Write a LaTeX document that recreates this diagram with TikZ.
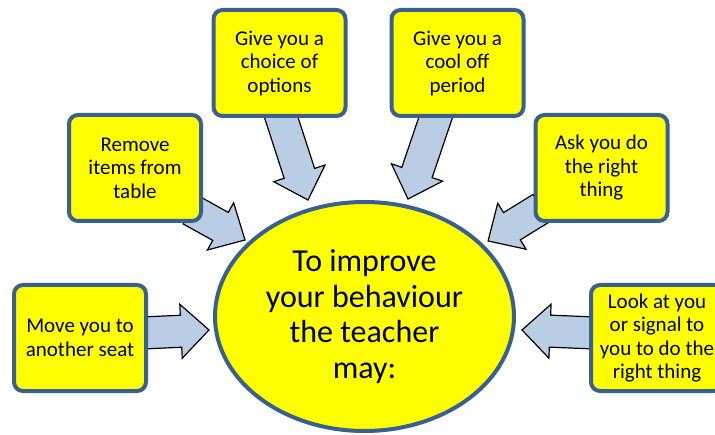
\documentclass[tikz,border=0pt]{standalone}
\usepackage{fontspec}
\setmainfont{Carlito}
\usepackage{xcolor}
\usetikzlibrary{shapes.geometric}
\usetikzlibrary{backgrounds}
\usetikzlibrary{calc}
\usetikzlibrary{positioning, arrows.meta}

\definecolor{boxline}{HTML}{3A6090}
\definecolor{boxfill}{HTML}{FFFF00}
\definecolor{arrowfill}{HTML}{B9CDE5}

% Block arrow from #1 (tail) to #2 (tip)
\newcommand{\fatarrow}[2]{%
  \path[arrowbody] let \p1=(#1), \p2=(#2),
      \n1={atan2(\y2-\y1,\x2-\x1)}, \n2={veclen(\x2-\x1,\y2-\y1)} in
    [shift={(\p1)}, rotate=\n1]
    (0,-16) -- (\n2-28,-16) -- (\n2-28,-27) -- (\n2,0) -- (\n2-28,27) -- (\n2-28,16) -- (0,16) -- cycle;}

\begin{document}
\begin{tikzpicture}[x=1pt, y=1pt,
    box/.style={draw=boxline, line width=4pt, fill=boxfill, rounded corners=9pt,
      minimum width=132pt, minimum height=106pt, inner sep=2pt, align=center,
      font=\fontsize{21}{23.5}\selectfont},
    mainshape/.style={ellipse, draw=boxline, line width=4pt, fill=boxfill,
      minimum width=299pt, minimum height=229pt, inner sep=0pt, align=center,
      font=\fontsize{32}{35.5}\selectfont},
    arrowbody/.style={draw=black, line width=1.2pt, fill=arrowfill, line join=miter}]
    \useasboundingbox (0,0) rectangle (715,434);

    % Centre ellipse
    \node[mainshape] (teacher) at (364.5,117.5) {To improve\\your behaviour\\the teacher\\may:};

    % Boxes round the ellipse
    \node[box] (move) at (80,96) {Move you to\\another seat};
    \node[box] (remove) at (135,266) {Remove\\items from\\table};
    \node[box] (choice) at (279.5,371) {Give you a\\choice of\\options};
    \node[box] (cool) at (457.5,371) {Give you a\\cool off\\period};
    \node[box] (ask) at (601.5,266) {Ask you do\\the right\\thing};
    \node[box] (look) at (657,96) {Look at you\\or signal to\\you to do the\\right thing};

    % Arrow tips next to the ellipse
    \coordinate (tmove) at (209,104);
    \coordinate (tremove) at (245,194);
    \coordinate (tchoice) at (308,234);
    \coordinate (tcool) at (408,235);
    \coordinate (task) at (488,193);
    \coordinate (tlook) at (522,104);

    % Block arrows behind the boxes
    \begin{scope}[on background layer]
        \fatarrow{$(move.east)+(-6,5)$}{tmove}
        \fatarrow{$(remove.south east)+(-12,13)$}{tremove}
        \fatarrow{$(choice.south)+(0,6)$}{tchoice}
        \fatarrow{$(cool.south)+(-20,6)$}{tcool}
        \fatarrow{$(ask.south west)+(8,15)$}{task}
        \fatarrow{$(look.west)+(6,5)$}{tlook}
    \end{scope}

\end{tikzpicture}
\end{document}
